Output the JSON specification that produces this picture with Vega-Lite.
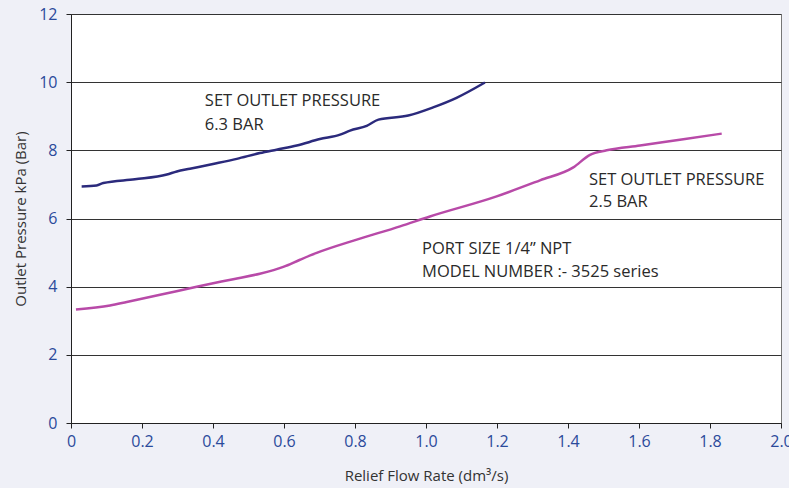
{
  "$schema": "https://vega.github.io/schema/vega-lite/v6.json",
  "width": 710,
  "height": 409,
  "autosize": {"type": "none"},
  "padding": {"left": 71, "top": 14, "right": 8, "bottom": 65},
  "background": "#eff0f7",
  "config": {
    "view": {"fill": "white", "stroke": "#777", "strokeWidth": 1},
    "font": "Open Sans",
    "axis": {
      "labelFontSize": 16,
      "titleFontSize": 15,
      "titleFontWeight": "normal",
      "labelColor": "#2b4a9b",
      "titleColor": "#333",
      "domainColor": "#222",
      "tickColor": "#222",
      "tickSize": 5,
      "labelFlush": false
    }
  },
  "datasets": {
    "curves": [
      {"series": "6.3 BAR", "flow": 0.03, "pressure": 6.94},
      {"series": "6.3 BAR", "flow": 0.072, "pressure": 6.97},
      {"series": "6.3 BAR", "flow": 0.091, "pressure": 7.04},
      {"series": "6.3 BAR", "flow": 0.18, "pressure": 7.15},
      {"series": "6.3 BAR", "flow": 0.27, "pressure": 7.29},
      {"series": "6.3 BAR", "flow": 0.298, "pressure": 7.38},
      {"series": "6.3 BAR", "flow": 0.335, "pressure": 7.46},
      {"series": "6.3 BAR", "flow": 0.40, "pressure": 7.6},
      {"series": "6.3 BAR", "flow": 0.467, "pressure": 7.75},
      {"series": "6.3 BAR", "flow": 0.532, "pressure": 7.92},
      {"series": "6.3 BAR", "flow": 0.579, "pressure": 8.02},
      {"series": "6.3 BAR", "flow": 0.636, "pressure": 8.14},
      {"series": "6.3 BAR", "flow": 0.701, "pressure": 8.33},
      {"series": "6.3 BAR", "flow": 0.758, "pressure": 8.46},
      {"series": "6.3 BAR", "flow": 0.786, "pressure": 8.58},
      {"series": "6.3 BAR", "flow": 0.833, "pressure": 8.72},
      {"series": "6.3 BAR", "flow": 0.866, "pressure": 8.9},
      {"series": "6.3 BAR", "flow": 0.95, "pressure": 9.02},
      {"series": "6.3 BAR", "flow": 1.02, "pressure": 9.26},
      {"series": "6.3 BAR", "flow": 1.086, "pressure": 9.54},
      {"series": "6.3 BAR", "flow": 1.166, "pressure": 9.99},
      {"series": "2.5 BAR", "flow": 0.014, "pressure": 3.33},
      {"series": "2.5 BAR", "flow": 0.11, "pressure": 3.45},
      {"series": "2.5 BAR", "flow": 0.157, "pressure": 3.55},
      {"series": "2.5 BAR", "flow": 0.251, "pressure": 3.76},
      {"series": "2.5 BAR", "flow": 0.354, "pressure": 4.0},
      {"series": "2.5 BAR", "flow": 0.457, "pressure": 4.22},
      {"series": "2.5 BAR", "flow": 0.532, "pressure": 4.38},
      {"series": "2.5 BAR", "flow": 0.598, "pressure": 4.58},
      {"series": "2.5 BAR", "flow": 0.645, "pressure": 4.79},
      {"series": "2.5 BAR", "flow": 0.692, "pressure": 4.99},
      {"series": "2.5 BAR", "flow": 0.805, "pressure": 5.38},
      {"series": "2.5 BAR", "flow": 0.927, "pressure": 5.77},
      {"series": "2.5 BAR", "flow": 1.011, "pressure": 6.06},
      {"series": "2.5 BAR", "flow": 1.199, "pressure": 6.65},
      {"series": "2.5 BAR", "flow": 1.321, "pressure": 7.12},
      {"series": "2.5 BAR", "flow": 1.415, "pressure": 7.5},
      {"series": "2.5 BAR", "flow": 1.462, "pressure": 7.87},
      {"series": "2.5 BAR", "flow": 1.509, "pressure": 8.0},
      {"series": "2.5 BAR", "flow": 1.603, "pressure": 8.14},
      {"series": "2.5 BAR", "flow": 1.72, "pressure": 8.32},
      {"series": "2.5 BAR", "flow": 1.833, "pressure": 8.49}
    ],
    "notes": [
      {"flow": 0.377, "pressure": 9.46, "label": "SET OUTLET PRESSURE"},
      {"flow": 0.377, "pressure": 8.75, "label": "6.3 BAR"},
      {"flow": 1.459, "pressure": 7.13, "label": "SET OUTLET PRESSURE"},
      {"flow": 1.459, "pressure": 6.48, "label": "2.5 BAR"},
      {"flow": 0.989, "pressure": 5.11, "label": "PORT SIZE 1/4\u201d NPT"},
      {"flow": 0.989, "pressure": 4.44, "label": "MODEL NUMBER :- 3525 series"}
    ]
  },
  "layer": [
    {
      "data": {"name": "curves"},
      "mark": {"type": "line", "strokeWidth": 2.5, "interpolate": "monotone"},
      "encoding": {
        "x": {
          "field": "flow", "type": "quantitative",
          "scale": {"domain": [0, 2], "nice": false, "zero": true},
          "axis": {
            "title": "Relief Flow Rate (dm\u00b3/s)",
            "values": [0, 0.2, 0.4, 0.6, 0.8, 1.0, 1.2, 1.4, 1.6, 1.8, 2.0],
            "labelExpr": "datum.value == 0 ? '0' : format(datum.value, '.1f')",
            "grid": false,
            "labelPadding": 5,
            "titlePadding": 19
          }
        },
        "y": {
          "field": "pressure", "type": "quantitative",
          "scale": {"domain": [0, 12], "nice": false},
          "axis": {
            "title": "Outlet Pressure kPa (Bar)",
            "values": [0, 2, 4, 6, 8, 10, 12],
            "grid": true, "gridColor": "#333", "gridWidth": 1, "gridOpacity": 1,
            "labelPadding": 9,
            "titlePadding": 10
          }
        },
        "color": {
          "field": "series", "type": "nominal",
          "scale": {"domain": ["6.3 BAR", "2.5 BAR"], "range": ["#2b2a7c", "#b84aa8"]},
          "legend": null
        },
        "detail": {"field": "series"}
      }
    },
    {
      "data": {"name": "notes"},
      "mark": {"type": "text", "align": "left", "baseline": "middle", "fontSize": 16.5, "color": "#2a2a2a"},
      "encoding": {
        "x": {"field": "flow", "type": "quantitative"},
        "y": {"field": "pressure", "type": "quantitative"},
        "text": {"field": "label"}
      }
    }
  ]
}
